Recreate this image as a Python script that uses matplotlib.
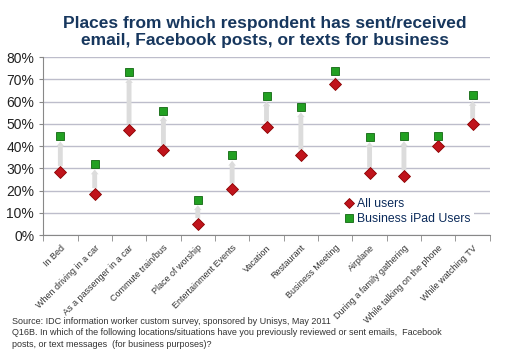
import numpy as np
import matplotlib.pyplot as plt

plt.rcParams['font.family'] = ['Liberation Sans', 'DejaVu Sans']

places = ["In Bed", "When driving in a car", "As a passenger in a car",
          "Commute train/bus", "Place of worship", "Entertainment Events",
          "Vacation", "Restaurant", "Business Meeting", "Airplane",
          "During a family gathering", "While talking on the phone",
          "While watching TV"]
all_users = [28.5, 18.6, 47.3, 38.1, 5.1, 20.7, 48.5, 36.0, 67.9, 27.8, 26.6, 40.2, 49.8]
ipad_users = [44.6, 32.0, 73.1, 55.9, 15.9, 35.9, 62.6, 57.7, 73.6, 44.3, 44.7, 44.7, 62.8]
yticks = [0, 10, 20, 30, 40, 50, 60, 70, 80]

fig = plt.figure(figsize=(5.2, 3.55), dpi=100)
ax = fig.add_axes([0.083, 0.338, 0.859, 0.501])
x = np.arange(len(places))

ax.set_ylim(0, 80)
ax.set_xlim(-0.5, len(places) - 0.5)
ax.set_yticks(yticks)
ax.set_yticklabels([f"{t}%" for t in yticks], fontsize=10, color='#222222')
ax.yaxis.grid(True, color='#BDBDCB', lw=1)
ax.set_axisbelow(True)

# grey arrows from all users up to iPad users
for xi, a, b in zip(x, all_users, ipad_users):
    if b - a > 3:
        ax.annotate("", xy=(xi, b), xytext=(xi, a),
                    arrowprops=dict(arrowstyle='simple,head_width=0.55,head_length=0.35,tail_width=0.35',
                                    fc='#DCDCDC', ec='none', mutation_scale=10,
                                    shrinkA=4, shrinkB=4), zorder=2)

ax.plot(x, all_users, 'D', color='#C0141C', mec='#8B0000', mew=0.6, ms=6,
        label="All users", zorder=3)
ax.plot(x, ipad_users, 's', color='#22A022', mec='#116611', mew=0.6, ms=6,
        label="Business iPad Users", zorder=3)

ax.set_xticks(x)
ax.set_xticklabels(places, rotation=45, ha='right', rotation_mode='anchor',
                   fontsize=6.5, color='#333333')
ax.tick_params(axis='x', length=0, pad=6)
ax.set_xticks(np.arange(-0.5, len(places), 1), minor=True)
ax.tick_params(axis='x', which='minor', length=4, color='#888888', direction='out')
ax.tick_params(axis='y', length=3, color='#888888')

for s in ['top', 'right']:
    ax.spines[s].set_visible(False)
ax.spines['left'].set_color('#888888')
ax.spines['bottom'].set_color('#888888')

leg = ax.legend(loc='lower left', bbox_to_anchor=(0.65, 0.0), fontsize=8.8,
                frameon=True, framealpha=1, edgecolor='none', handletextpad=0.1,
                handlelength=1.0, borderpad=0.3, labelspacing=0.25, markerscale=0.85)
for t in leg.get_texts():
    t.set_color('#0A2A5A')

fig.text(0.51, 0.955, "Places from which respondent has sent/received\nemail, Facebook posts, or texts for business",
         ha='center', va='top', fontsize=12.5, fontweight='bold', color='#17375E',
         linespacing=1.15)

fig.text(0.023, 0.107, "Source: IDC information worker custom survey, sponsored by Unisys, May 2011\n"
         "Q16B. In which of the following locations/situations have you previously reviewed or sent emails,  Facebook\n"
         "posts, or text messages  (for business purposes)?",
         ha='left', va='top', fontsize=6.5, color='#333333', linespacing=1.35)

fig.savefig("out.png", dpi=100)
